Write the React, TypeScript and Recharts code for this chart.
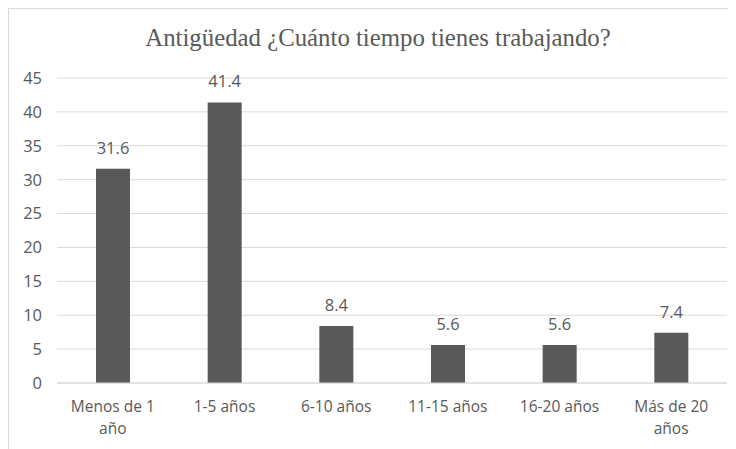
import { BarChart, Bar, XAxis, YAxis, CartesianGrid, LabelList, Text } from "recharts";

const categories = [
  "Menos de 1 año",
  "1-5 años",
  "6-10 años",
  "11-15 años",
  "16-20 años",
  "Más de 20 años",
];
const percentages = [31.6, 41.4, 8.4, 5.6, 5.6, 7.4];
const yTicks = [0, 5, 10, 15, 20, 25, 30, 35, 40, 45];
const title = "Antigüedad ¿Cuánto tiempo tienes trabajando?";

const data = categories.map((name, i) => ({ name, value: percentages[i] }));

const INK = "#595959";
const GRID = "#d9d9d9";
const SANS = "'Open Sans', sans-serif";

// category labels wrap onto a second line like the spreadsheet axis does
function CategoryTick({ x, y, payload }: any) {
  return (
    <Text
      x={x}
      y={y + 18}
      width={100}
      lineHeight={22}
      textAnchor="middle"
      verticalAnchor="start"
      fill={INK}
      fontSize={15.5}
      fontFamily={SANS}
    >
      {payload.value}
    </Text>
  );
}

export default function App() {
  return (
    <div
      style={{
        position: "relative",
        width: 728,
        height: 441,
        borderTop: `1px solid ${GRID}`,
        borderLeft: `1px solid ${GRID}`,
        background: "#fff",
        overflow: "hidden",
      }}
    >
      <BarChart
        width={727}
        height={440}
        data={data}
        margin={{ top: 69, right: 9, bottom: 0, left: 0 }}
      >
        <CartesianGrid vertical={false} stroke={GRID} />
        <XAxis
          dataKey="name"
          height={66}
          axisLine={{ stroke: GRID }}
          tickLine={false}
          tickSize={0}
          tickMargin={0}
          interval={0}
          tick={<CategoryTick />}
        />
        <YAxis
          width={48}
          domain={[0, 45]}
          ticks={yTicks}
          axisLine={false}
          tickLine={false}
          tickSize={0}
          tickMargin={15}
          tick={{ fill: INK, fontSize: 16.5, fontFamily: SANS }}
        />
        <Bar dataKey="value" fill={INK} barSize={34} isAnimationActive={false}>
          <LabelList
            dataKey="value"
            position="top"
            offset={15}
            fill={INK}
            fontSize={16.5}
            fontFamily={SANS}
          />
        </Bar>
      </BarChart>
      <svg
        width={727}
        height={60}
        style={{ position: "absolute", left: 0, top: 0, pointerEvents: "none" }}
      >
        <text
          x={369}
          y={37}
          textAnchor="middle"
          fill={INK}
          fontSize={24.8}
          fontFamily="'Liberation Serif', 'Times New Roman', serif"
        >
          {title}
        </text>
      </svg>
    </div>
  );
}
